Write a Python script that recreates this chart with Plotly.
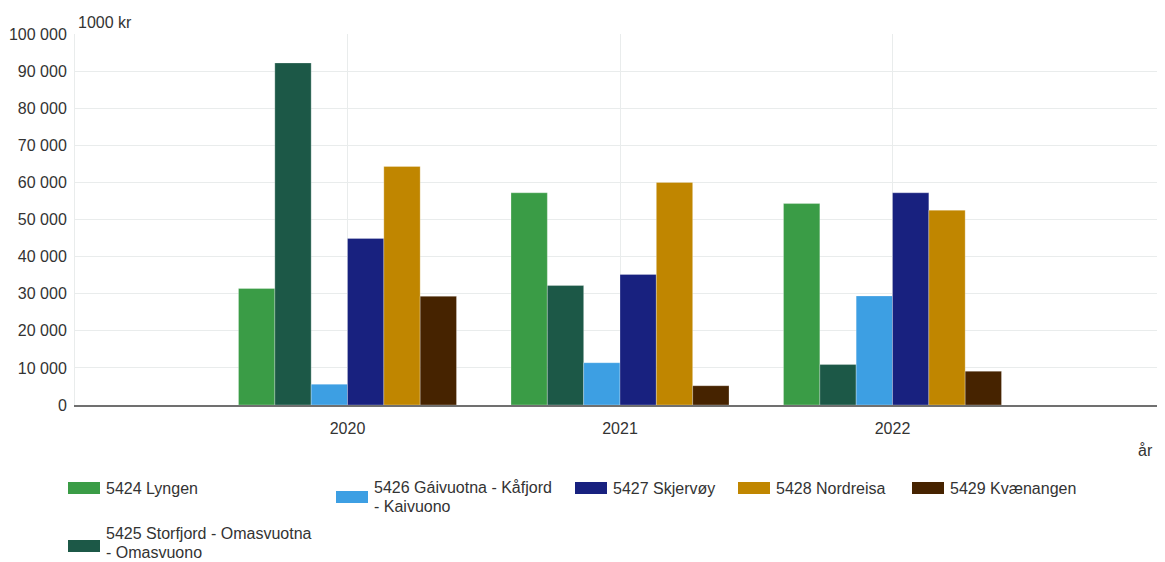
import plotly.graph_objects as go

# Data (1000 kr)
years = [2020, 2021, 2022]
names = [
    "5424 Lyngen",
    "5425 Storfjord - Omasvuotna<br>- Omasvuono",
    "5426 Gáivuotna - Kåfjord<br>- Kaivuono",
    "5427 Skjervøy",
    "5428 Nordreisa",
    "5429 Kvænangen",
]
lyngen = [31400, 57200, 54300]
storfjord = [92200, 32200, 10900]
gaivuotna = [5600, 11400, 29400]
skjervoy = [44900, 35200, 57200]
nordreisa = [64300, 60000, 52500]
kvaenangen = [29300, 5200, 9100]
series = [lyngen, storfjord, gaivuotna, skjervoy, nordreisa, kvaenangen]
colors = ["#3a9c46", "#1c5847", "#3d9fe3", "#18217f", "#c08600", "#462300"]

# page has an 8px body margin, so the figure is drawn 8px in from the corner
OFF = 8
W, H = 1165 - OFF, 562 - OFF
L, R, T, B = 75 - OFF, 0, 34 - OFF, 157
FONT = "Liberation Sans, Arial, sans-serif"
TXT = "#333333"
LINE_H = 19


def px(x):
    # screen pixel x -> paper coordinate
    return (x - OFF - L) / (W - L - R)


def py(y):
    # screen pixel y -> paper coordinate
    return (H - B - (y - OFF)) / (H - B - T)


fig = go.Figure()

for name, vals, col in zip(names, series, colors):
    fig.add_trace(go.Bar(
        x=years,
        y=vals,
        name=name.replace("<br>", " "),
        marker=dict(color=col, line=dict(color="rgba(255,255,255,0.45)", width=0.6)),
        showlegend=False,
    ))

# Custom legend: swatch rectangles + labels (screen positions from the reference)
# (x, swatch centre y, text centre y)
legend_pos = [
    (68, 488, 488),   # Lyngen
    (68, 546, 543),   # Storfjord (text nudged up to stay on the page)
    (336, 497, 497),  # Gáivuotna
    (575, 488, 488),  # Skjervøy
    (738, 488, 488),  # Nordreisa
    (912, 488, 488),  # Kvænangen
]
shapes = []
annotations = []
for name, col, (lx, sy, ty) in zip(names, colors, legend_pos):
    shapes.append(dict(
        type="rect", xref="paper", yref="paper",
        x0=px(lx), x1=px(lx + 32), y0=py(sy - 6), y1=py(sy + 6),
        fillcolor=col, line=dict(width=0),
    ))
    lines = name.split("<br>")
    top = ty - (len(lines) - 1) * LINE_H / 2
    for i, line in enumerate(lines):
        annotations.append(dict(
            x=px(lx + 37), y=py(top + i * LINE_H), xref="paper", yref="paper",
            xanchor="left", yanchor="middle", align="left",
            text=line, showarrow=False, borderpad=0,
            font=dict(family=FONT, size=16, color=TXT),
        ))

annotations.append(dict(
    x=px(76), y=py(22), xref="paper", yref="paper",
    xanchor="left", yanchor="middle", text="1000 kr", showarrow=False,
    font=dict(family=FONT, size=16, color=TXT),
))
annotations.append(dict(
    x=px(1155), y=py(450), xref="paper", yref="paper",
    xanchor="right", yanchor="middle", text="år", showarrow=False,
    font=dict(family=FONT, size=16, color=TXT),
))

fig.update_layout(
    width=W,
    height=H,
    margin=dict(l=L, r=R, t=T, b=B),
    paper_bgcolor="white",
    plot_bgcolor="white",
    barmode="group",
    bargap=0.2,
    bargroupgap=0,
    separators=", ",
    font=dict(family=FONT, size=16, color=TXT),
    shapes=shapes,
    annotations=annotations,
    xaxis=dict(
        range=[2019, 2023],
        tickvals=years,
        ticktext=[str(y) for y in years],
        showgrid=True,
        gridcolor="#e9ecec",
        gridwidth=1,
        zeroline=False,
        showline=True,
        linecolor="#707070",
        linewidth=2,
        ticks="",
        ticklabelstandoff=8,
    ),
    yaxis=dict(
        range=[0, 100000],
        dtick=10000,
        tickformat=",d",
        showgrid=True,
        gridcolor="#e9ecec",
        gridwidth=1,
        zeroline=False,
        showline=True,
        linecolor="#e9ecec",
        linewidth=1,
        ticks="",
        ticklabelstandoff=4,
    ),
)

fig.write_html("out.html")
